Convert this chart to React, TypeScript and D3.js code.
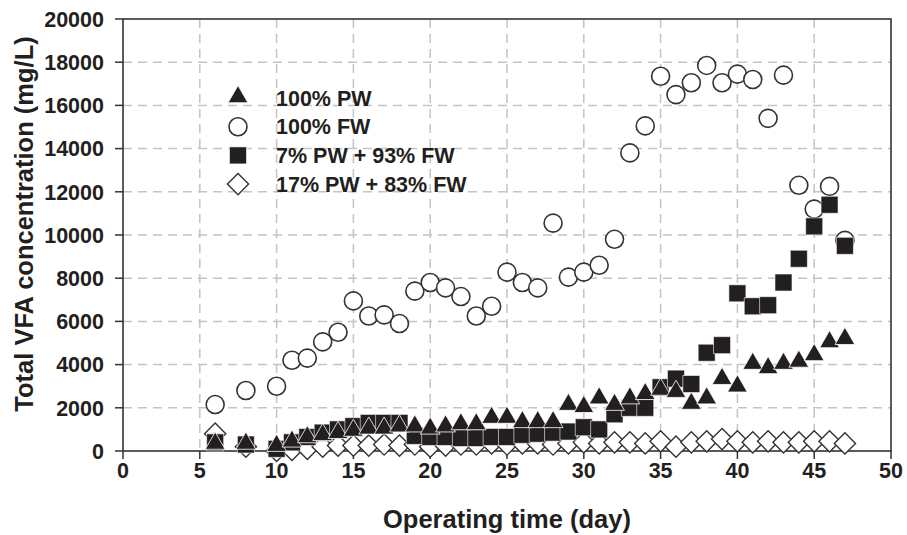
import React from "react";
import * as d3 from "d3";

// Operating days sampled for every reactor
const days = [6, 8, 10, 11, 12, 13, 14, 15, 16, 17, 18, 19, 20, 21, 22, 23, 24, 25, 26, 27, 28, 29, 30, 31, 32, 33, 34, 35, 36, 37, 38, 39, 40, 41, 42, 43, 44, 45, 46, 47];

// Total VFA concentration (mg/L) per reactor
const pw100 = [300, 300, 200, 400, 600, 700, 800, 900, 1000, 1000, 1100, 1100, 1000, 1100, 1200, 1200, 1500, 1500, 1300, 1300, 1300, 2100, 2000, 2400, 2100, 2400, 2600, 2800, 2700, 2150, 2400, 3300, 2950, 4000, 3800, 4000, 4100, 4400, 5000, 5150];
const fw100 = [2150, 2800, 3000, 4200, 4300, 5050, 5500, 6950, 6250, 6300, 5900, 7400, 7800, 7550, 7150, 6250, 6700, 8280, 7800, 7550, 10550, 8050, 8280, 8600, 9800, 13800, 15050, 17350, 16500, 17050, 17850, 17050, 17450, 17200, 15400, 17400, 12300, 11200, 12250, 9750];
const pw7fw93 = [400, 300, 100, 400, 650, 850, 1000, 1150, 1300, 1300, 1300, 700, 650, 650, 600, 600, 650, 650, 750, 800, 850, 900, 1100, 1000, 1700, 2000, 2000, 2950, 3350, 3100, 4550, 4900, 7300, 6700, 6750, 7800, 8900, 10400, 11400, 9500];
const pw17fw83 = [800, 200, 0, 50, 100, 200, 250, 250, 250, 300, 250, 300, 200, 250, 300, 300, 350, 300, 350, 350, 300, 350, 400, 350, 400, 400, 350, 450, 200, 400, 450, 550, 450, 400, 450, 400, 400, 450, 450, 350];

const xTicks = [0, 5, 10, 15, 20, 25, 30, 35, 40, 45, 50];
const yTicks = [0, 2000, 4000, 6000, 8000, 10000, 12000, 14000, 16000, 18000, 20000];

const legendLabels = ["100% PW", "100% FW", "7% PW + 93% FW", "17% PW + 83% FW"];

const W = 907;
const H = 535;
const left = 123;
const right = 891;
const top = 19;
const bottom = 451;

const ink = "#231f20";
const font = "'Liberation Sans', Arial, Helvetica, sans-serif";

const x = d3.scaleLinear().domain([0, 50]).range([left, right]);
const y = d3.scaleLinear().domain([0, 20000]).range([bottom, top]);

const triPath = d3.symbol().type(d3.symbolTriangle).size(170)()!;
const sqPath = d3.symbol().type(d3.symbolSquare).size(290)()!;
const diaPath = d3.symbol().type(d3.symbolSquare).size(225)()!;

type Kind = "tri" | "circle" | "square" | "diamond";

function Marker({ kind, cx, cy }: { kind: Kind; cx: number; cy: number }) {
  if (kind === "circle") {
    return <circle cx={cx} cy={cy} r={9} fill="#fff" stroke="#333" strokeWidth={1.6} />;
  }
  if (kind === "tri") {
    return <path d={triPath} transform={`translate(${cx},${cy - 1})`} fill={ink} stroke="#fff" strokeWidth={0.8} />;
  }
  if (kind === "square") {
    return <path d={sqPath} transform={`translate(${cx},${cy})`} fill={ink} stroke="#fff" strokeWidth={0.6} />;
  }
  return <path d={diaPath} transform={`translate(${cx},${cy}) rotate(45)`} fill="#fff" stroke="#333" strokeWidth={1.4} />;
}

const series: { kind: Kind; values: number[] }[] = [
  { kind: "circle", values: fw100 },
  { kind: "diamond", values: pw17fw83 },
  { kind: "square", values: pw7fw93 },
  { kind: "tri", values: pw100 },
];

const legendKinds: Kind[] = ["tri", "circle", "square", "diamond"];

export default function App() {
  return (
    <svg width={W} height={H} style={{ position: "absolute", left: 0, top: 0, background: "#fff" }} fontFamily={font}>
      {/* grid */}
      <g stroke="#c4c4c4" strokeWidth={1.5} strokeDasharray="9,6">
        {xTicks.slice(1, -1).map((t) => (
          <line key={`gx${t}`} x1={x(t)} x2={x(t)} y1={top} y2={bottom} />
        ))}
        {yTicks.slice(1, -1).map((t) => (
          <line key={`gy${t}`} x1={left} x2={right} y1={y(t)} y2={y(t)} />
        ))}
      </g>

      {/* frame */}
      <rect x={left} y={top} width={right - left} height={bottom - top} fill="none" stroke="#333" strokeWidth={1.6} />

      {/* y ticks */}
      {yTicks.map((t) => (
        <g key={`ty${t}`}>
          <line x1={left - 8} x2={left} y1={y(t)} y2={y(t)} stroke="#333" strokeWidth={1.5} />
          <text x={left - 19} y={y(t)} dy="0.36em" textAnchor="end" fontSize={21.5} fontWeight="bold" fill={ink}>
            {t}
          </text>
        </g>
      ))}

      {/* x ticks */}
      {xTicks.map((t) => (
        <g key={`tx${t}`}>
          <line x1={x(t)} x2={x(t)} y1={bottom} y2={bottom + 8} stroke="#333" strokeWidth={1.5} />
          <text x={x(t)} y={bottom + 27} textAnchor="middle" fontSize={21.5} fontWeight="bold" fill={ink}>
            {t}
          </text>
        </g>
      ))}

      {/* axis titles */}
      <text x={507} y={528} textAnchor="middle" fontSize={25.5} fontWeight="bold" fill={ink}>
        Operating time (day)
      </text>
      <text
        transform={`translate(33,${224}) rotate(-90)`}
        textAnchor="middle"
        fontSize={25.5}
        fontWeight="bold"
        fill={ink}
      >
        Total VFA concentration (mg/L)
      </text>

      {/* data */}
      {series.map((s) => (
        <g key={s.kind}>
          {days.map((d, i) => (
            <Marker key={i} kind={s.kind} cx={x(d)} cy={y(s.values[i])} />
          ))}
        </g>
      ))}

      {/* legend */}
      {legendLabels.map((label, i) => {
        const ly = 98 + i * 28.7;
        return (
          <g key={label}>
            <Marker kind={legendKinds[i]} cx={238} cy={ly} />
            <text x={276} y={ly} dy="0.36em" fontSize={21.5} fontWeight="bold" fill={ink}>
              {label}
            </text>
          </g>
        );
      })}
    </svg>
  );
}
